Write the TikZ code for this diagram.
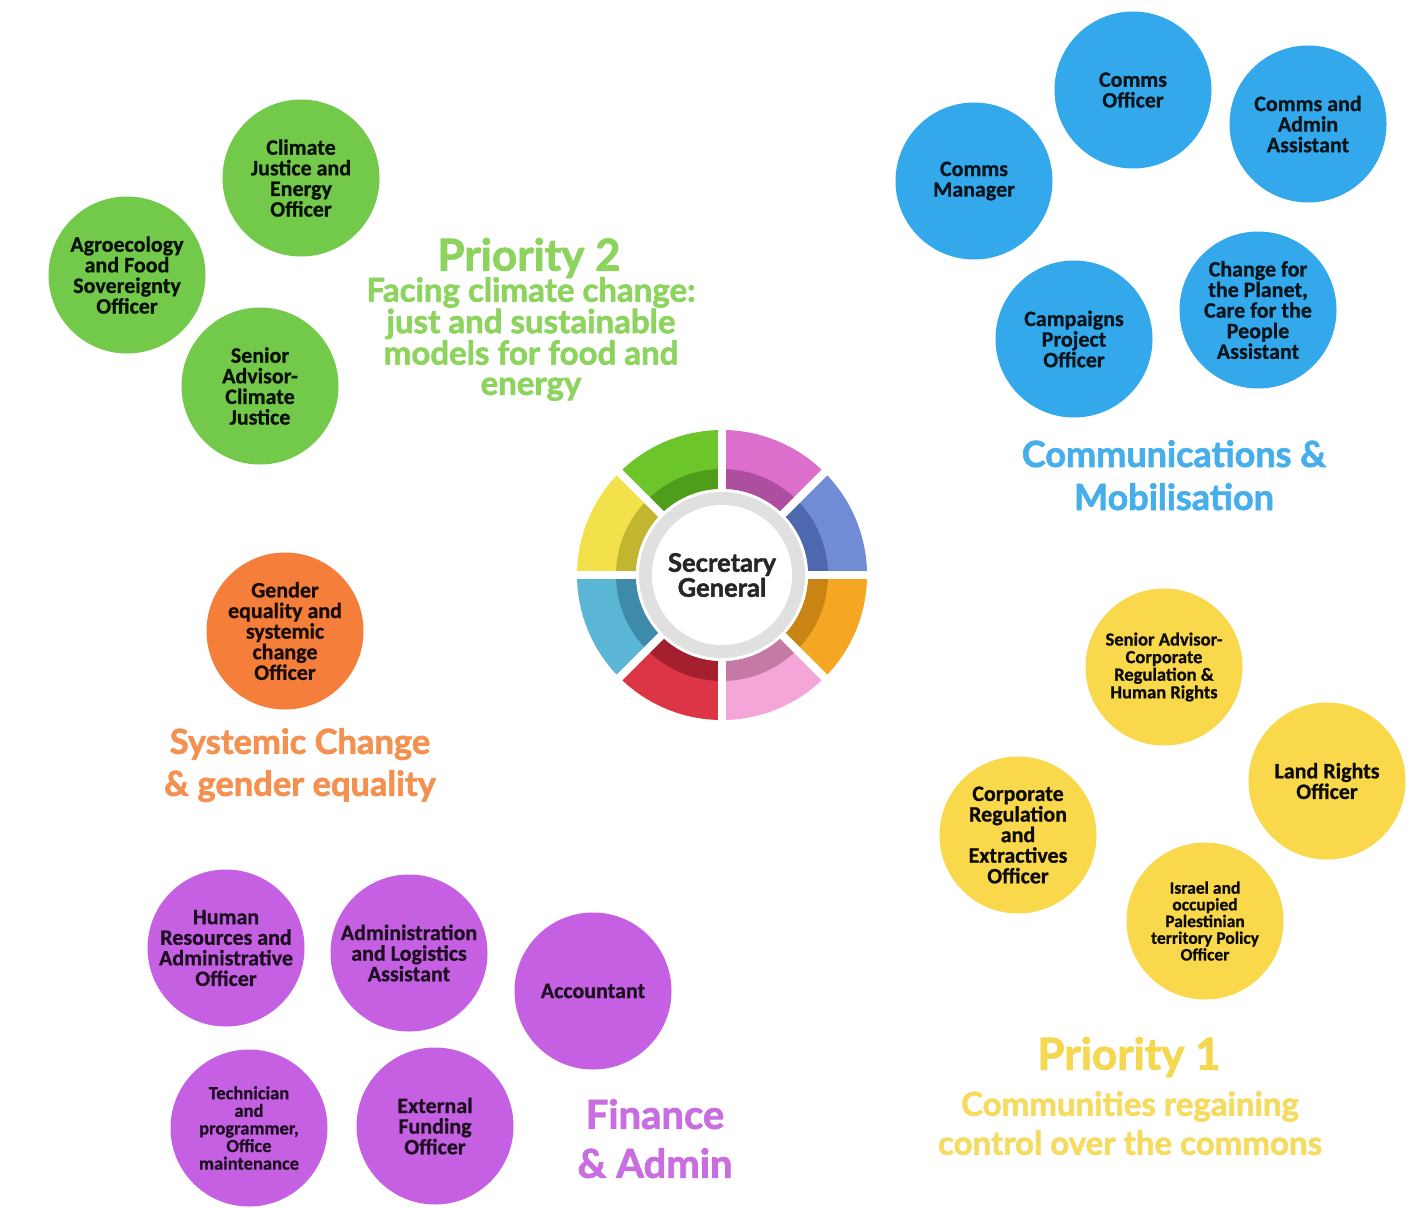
\documentclass[tikz,border=0pt]{standalone}
\usepackage{fontspec}
\setmainfont{Lato}[BoldFeatures={FakeBold=1.8}]
\newfontfamily\cf{Carlito}[BoldFeatures={FakeBold=0.8}]
\definecolor{cgreen}{HTML}{72C94A}
\definecolor{cblue}{HTML}{33A9EC}
\definecolor{cyel}{HTML}{F9D84C}
\definecolor{cpur}{HTML}{C660E2}
\definecolor{corg}{HTML}{F47E3A}
\definecolor{hgreen}{HTML}{8DD45E}
\definecolor{hblue}{HTML}{46AFEB}
\definecolor{horg}{HTML}{F49150}
\definecolor{hpur}{HTML}{C86EE1}
\definecolor{hyel}{HTML}{F5D750}
\tikzset{
  bub/.style={circle, minimum size=157pt, inner sep=0pt, align=center,
    font=\cf\bfseries\fontsize{22}{20.6}\selectfont},
  grn/.style={bub, fill=cgreen, text=black!92!cgreen},
  blu/.style={bub, fill=cblue, text=black!88!cblue},
  yel/.style={bub, fill=cyel, text=black!95!cyel},
  pur/.style={bub, fill=cpur, text=black!85!cpur},
  org/.style={bub, fill=corg, text=black!90!corg},
  small/.style={font=\cf\bfseries\fontsize{18.5}{17.6}\selectfont},
  tiny/.style={font=\cf\bfseries\fontsize{17.5}{16.7}\selectfont},
  head/.style={align=center, inner sep=0pt},
}
\begin{document}
\begin{tikzpicture}[x=1pt,y=-1pt]
\useasboundingbox[fill=white] (0,0) rectangle (1420,1207);

% green
\node[grn] (cje) at (301,178) {Climate\\Justice and\\Energy\\Officer};
\node[grn] (agr) at (127,275) {Agroecology\\and Food\\Sovereignty\\Officer};
\node[grn] (sac) at (260,386) {Senior\\Advisor-\\Climate\\Justice};
\node[head, text=hgreen, font=\bfseries\fontsize{44}{40}\selectfont] (p2) at (529,258) {Priority 2};
\node[head, text=hgreen, font=\bfseries\fontsize{33}{30.2}\selectfont, anchor=north] (p2s) at (531,277) {Facing climate change:\\just and sustainable\\models for food and\\energy};

% blue
\node[blu] (cof) at (1133,90) {Comms\\Officer};
\node[blu] (caa) at (1308,124) {Comms and\\Admin\\Assistant};
\node[blu] (cmg) at (974,181) {Comms\\Manager};
\node[blu] (cpo) at (1074,339) {Campaigns\\Project\\Officer};
\node[blu] (cpl) at (1258,310) {Change for\\the Planet,\\Care for the\\People\\Assistant};
\node[head, text=hblue, font=\bfseries\fontsize{36}{43}\selectfont, anchor=north] (cm) at (1174,440) {Communications \&\\Mobilisation};

% orange
\node[org] (gen) at (285,631) {Gender\\equality and\\systemic\\change\\Officer};
\node[head, text=horg, font=\bfseries\fontsize{34.5}{42}\selectfont, anchor=north] (sc) at (300,728) {Systemic Change\\\& gender equality};

% yellow
\node[yel, small] (sac2) at (1164,667) {Senior Advisor-\\Corporate\\Regulation \&\\Human Rights};
\node[yel] (lro) at (1327,781) {Land Rights\\Officer};
\node[yel] (cre) at (1018,835) {Corporate\\Regulation\\and\\Extractives\\Officer};
\node[yel, tiny] (isr) at (1205,921) {Israel and\\occupied\\Palestinian\\territory Policy\\Officer};
\node[head, text=hyel, font=\bfseries\fontsize{44}{40}\selectfont] (p1) at (1129,1057) {Priority 1};
\node[head, text=hyel!90!white, font=\bfseries\fontsize{33}{39}\selectfont, anchor=north] (p1s) at (1130,1091) {Communities regaining\\control over the commons};

% purple
\node[pur] (hr) at (226,948) {Human\\Resources and\\Administrative\\Officer};
\node[pur] (adm) at (409,953) {Administration\\and Logistics\\Assistant};
\node[pur] (acc) at (593,991) {Accountant};
\node[pur, small] (tec) at (249,1128) {Technician\\and\\programmer,\\Office\\maintenance};
\node[pur] (ext) at (435,1126) {External\\Funding\\Officer};
\node[head, text=hpur, font=\bfseries\fontsize{40}{49}\selectfont, anchor=north] (fa) at (655,1099) {Finance\\\& Admin};

% wheel
\begin{scope}[shift={(722,575)}, yscale=-1]
  \foreach \a/\cl/\cd in {0/6F8CD4/4D68AE, 45/DB6FCB/AE4E9E, 90/6CC52A/4E9E1C, 135/F2E14A/C2B530,
                         180/5BB5D5/3D8BA8, 225/DC3545/A5202E, 270/F5A6D8/C47AA5, 315/F5A623/C98513} {
    \definecolor{segl}{HTML}{\cl}
    \definecolor{segd}{HTML}{\cd}
    \fill[segl] (\a:145) arc[start angle=\a, end angle=\a+45, radius=145]
       -- (\a+45:86) arc[start angle=\a+45, end angle=\a, radius=86] -- cycle;
    \fill[segd] (\a:106) arc[start angle=\a, end angle=\a+45, radius=106]
       -- (\a+45:86) arc[start angle=\a+45, end angle=\a, radius=86] -- cycle;
  }
  \foreach \a in {0,45,...,315} { \draw[white, line width=8pt] (0,0) -- (\a:150); }
  \fill[white] (0,0) circle[radius=86];
  \fill[black!12] (0,0) circle[radius=83];
  \fill[white] (0,0) circle[radius=70];
\end{scope}
\node[align=center, font=\bfseries\fontsize{25.5}{25}\selectfont, text=black!85] (sg) at (722,575) {Secretary\\General};
\end{tikzpicture}
\end{document}
